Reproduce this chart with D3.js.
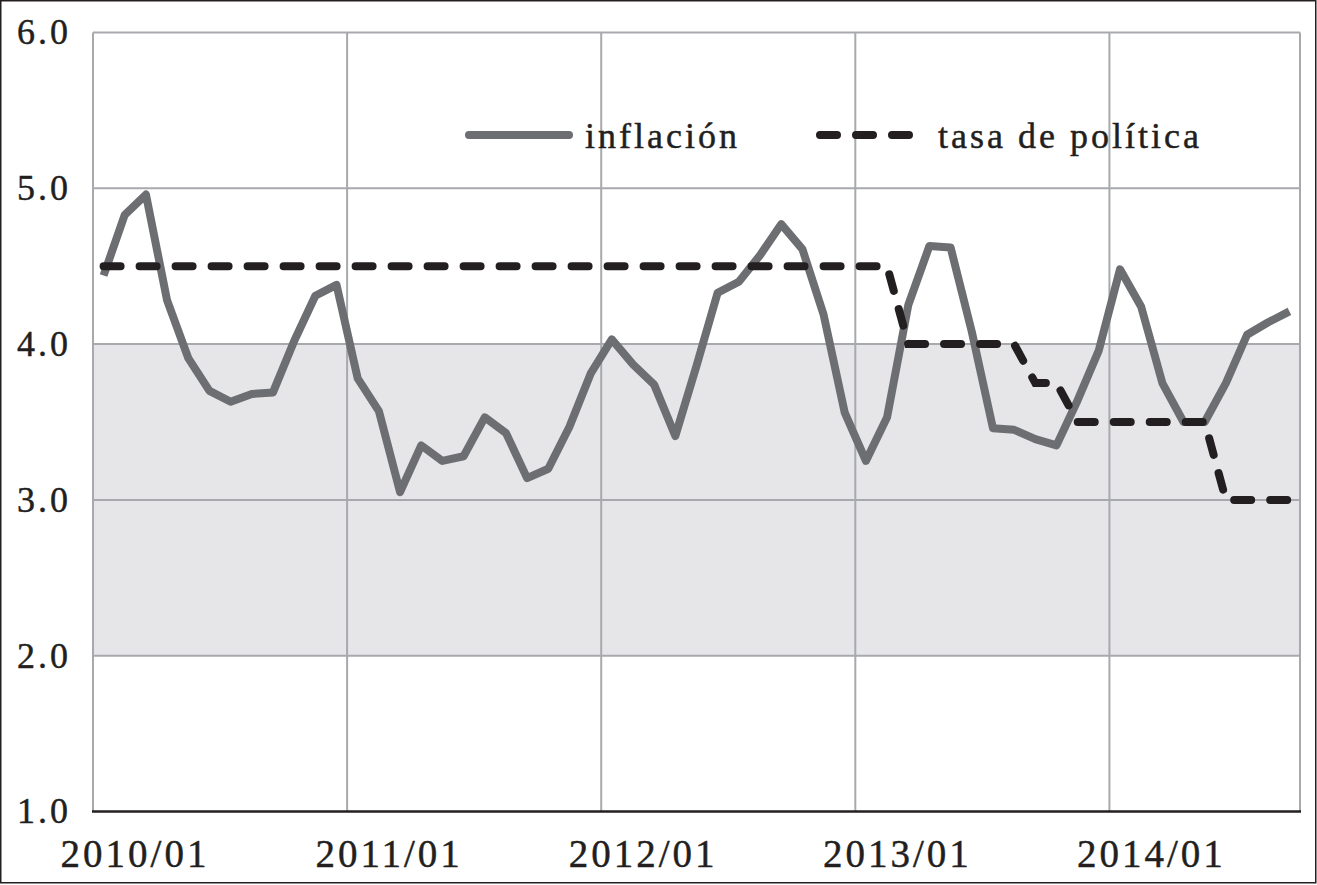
<!DOCTYPE html>
<html>
<head>
<meta charset="utf-8">
<script src="https://cdn.jsdelivr.net/npm/d3@7"></script>
<style>
  body { margin: 0; background: #fff; }
  svg { display: block; }
  text { font-family: "Liberation Serif", "DejaVu Serif", serif; fill: #231f20; stroke: #231f20; stroke-width: 0.45px; letter-spacing: 3px; }
</style>
</head>
<body>
<svg id="chart" width="1317" height="885"></svg>
<script>
// monthly, 2010/01 .. 2014/09
const inflacion = [
  4.44, 4.83, 4.96, 4.28, 3.91, 3.70, 3.63, 3.68, 3.69, 4.02, 4.31, 4.38,
  3.78, 3.57, 3.05, 3.35, 3.25, 3.28, 3.53, 3.43, 3.14, 3.20, 3.47, 3.81,
  4.03, 3.87, 3.74, 3.41, 3.86, 4.33, 4.40, 4.57, 4.77, 4.61, 4.19, 3.56,
  3.25, 3.53, 4.25, 4.63, 4.62, 4.08, 3.46, 3.45, 3.39, 3.35, 3.64, 3.96,
  4.48, 4.24, 3.75, 3.50, 3.50, 3.75, 4.06, 4.14, 4.21
]
const tasaPolitica = [
  4.5, 4.5, 4.5, 4.5, 4.5, 4.5, 4.5, 4.5, 4.5, 4.5, 4.5, 4.5,
  4.5, 4.5, 4.5, 4.5, 4.5, 4.5, 4.5, 4.5, 4.5, 4.5, 4.5, 4.5,
  4.5, 4.5, 4.5, 4.5, 4.5, 4.5, 4.5, 4.5, 4.5, 4.5, 4.5, 4.5,
  4.5, 4.5, 4.0, 4.0, 4.0, 4.0, 4.0, 4.0, 3.75, 3.75, 3.5, 3.5,
  3.5, 3.5, 3.5, 3.5, 3.5, 3.0, 3.0, 3.0, 3.0
]
const yTicks = [1, 2, 3, 4, 5, 6]
const xTickLabels = ['2010/01', '2011/01', '2012/01', '2013/01', '2014/01']
const xTickIndex = [0, 12, 24, 36, 48]
const targetBand = [2, 4]

const svg = d3.select('#chart')
const plotLeft = 93, plotRight = 1300, plotTop = 32.5, plotBottom = 811.5

const x = d3.scaleBand().domain(d3.range(inflacion.length)).range([plotLeft, plotRight])
const y = d3.scaleLinear().domain([1, 6]).range([plotBottom, plotTop])
const cx = (i) => x(i) + x.bandwidth() / 2

// outer frame
svg.append('rect')
  .attr('x', 0.75).attr('y', 0.75).attr('width', 1315).attr('height', 882)
  .attr('fill', '#fff').attr('stroke', '#231f20').attr('stroke-width', 1.5)

// target band
svg.append('rect')
  .attr('x', plotLeft).attr('width', plotRight - plotLeft)
  .attr('y', y(targetBand[1])).attr('height', y(targetBand[0]) - y(targetBand[1]))
  .attr('fill', '#e6e6e8')

// grid
const grid = svg.append('g').attr('stroke', '#a7a9ac').attr('stroke-width', 2)
grid.selectAll('line.h')
  .data(yTicks.slice(1))
  .join('line')
  .attr('x1', plotLeft).attr('x2', plotRight)
  .attr('y1', (d) => y(d)).attr('y2', (d) => y(d))
grid.selectAll('line.v')
  .data([...xTickIndex, inflacion.length])
  .join('line')
  .attr('x1', (i) => (i < inflacion.length ? x(i) : plotRight))
  .attr('x2', (i) => (i < inflacion.length ? x(i) : plotRight))
  .attr('y1', plotTop).attr('y2', plotBottom)

// x axis line
svg.append('line')
  .attr('x1', plotLeft - 1).attr('x2', plotRight + 1)
  .attr('y1', plotBottom).attr('y2', plotBottom)
  .attr('stroke', '#231f20').attr('stroke-width', 2.5)

// y labels
svg.append('g')
  .selectAll('text')
  .data(yTicks)
  .join('text')
  .attr('x', 71)
  .attr('y', (d) => y(d))
  .attr('dy', '0.33em')
  .attr('text-anchor', 'end')
  .attr('font-size', 36)
  .text((d) => d.toFixed(1))

// x labels
svg.append('g')
  .selectAll('text')
  .data(xTickLabels)
  .join('text')
  .attr('x', (d, i) => x(xTickIndex[i]) + 42)
  .attr('y', 866.5)
  .attr('text-anchor', 'middle')
  .attr('font-size', 39)
  .text((d) => d)

const line = d3.line().x((d, i) => cx(i)).y((d) => y(d))

svg.append('path')
  .datum(inflacion)
  .attr('fill', 'none')
  .attr('stroke', '#6d6e71')
  .attr('stroke-width', 8)
  .attr('stroke-linejoin', 'round')
  .attr('d', line)

svg.append('path')
  .datum(tasaPolitica)
  .attr('fill', 'none')
  .attr('stroke', '#231f20')
  .attr('stroke-width', 8)
  .attr('stroke-linecap', 'round')
  .attr('stroke-dasharray', '17 19')
  .attr('d', line)

// legend
const legend = svg.append('g')
legend.append('line')
  .attr('x1', 469).attr('x2', 569).attr('y1', 135).attr('y2', 135)
  .attr('stroke', '#6d6e71').attr('stroke-width', 8).attr('stroke-linecap', 'round')
legend.append('text')
  .attr('x', 585).attr('y', 148).attr('font-size', 36)
  .text('inflación')
legend.append('line')
  .attr('x1', 820).attr('x2', 912).attr('y1', 135).attr('y2', 135)
  .attr('stroke', '#231f20').attr('stroke-width', 8).attr('stroke-linecap', 'round')
  .attr('stroke-dasharray', '17 19')
legend.append('text')
  .attr('x', 938).attr('y', 148).attr('font-size', 36)
  .text('tasa de política')
</script>
</body>
</html>
